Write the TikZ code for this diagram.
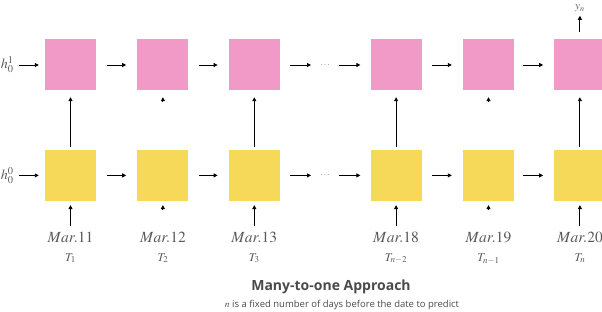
\documentclass[tikz,border=0pt]{standalone}
\usepackage{mathptmx}
\usepackage{fontspec}
\setsansfont{Open Sans}
\usetikzlibrary{arrows.meta, positioning}

\definecolor{rnnpink}{HTML}{F19AC8}
\definecolor{rnnyellow}{HTML}{F7D95A}
\definecolor{labelgray}{HTML}{5A5A5A}
\definecolor{titlegray}{HTML}{4A4A4A}

\begin{document}
\begin{tikzpicture}[x=1pt, y=1pt,
    box/.style={minimum width=51pt, minimum height=51pt, inner sep=0pt},
    upper/.style={box, fill=rnnpink},
    lower/.style={box, fill=rnnyellow},
    dots/.style={minimum width=28pt, minimum height=10pt, inner sep=0pt, text=labelgray, font=\fontsize{9}{9}\selectfont},
    lbl/.style={inner sep=1pt, text=labelgray},
    date/.style={lbl, font=\fontsize{15.5}{15.5}\selectfont},
    tlbl/.style={lbl, font=\fontsize{12}{12}\selectfont},
    arr/.style={-{Triangle[length=4pt, width=4pt]}, line width=0.9pt},
    tiponly/.style={arr, shorten <=#1}]
\useasboundingbox (0,0) rectangle (602,-312);

% upper layer
\node[upper] (p1) at (70.5,-65) {};
\node[upper, right=41pt of p1] (p2) {};
\node[upper, right=40pt of p2] (p3) {};
\node[dots, right=31pt of p3] (dt1) {$\ldots$};
\node[upper, right=31pt of dt1] (p4) {};
\node[upper, right=41pt of p4] (p5) {};
\node[upper, right=40pt of p5] (p6) {};

% lower layer
\node[lower, below=59pt of p1] (y1) {};
\node[lower, below=59pt of p2] (y2) {};
\node[lower, below=59pt of p3] (y3) {};
\node[dots, right=31pt of y3] (dt2) {$\ldots$};
\node[lower, below=59pt of p4] (y4) {};
\node[lower, below=59pt of p5] (y5) {};
\node[lower, below=59pt of p6] (y6) {};

% initial states and output
\node[lbl, left=30pt of p1, font=\fontsize{14}{14}\selectfont] (h1) {$h_0^1$};
\node[lbl, left=30pt of y1, font=\fontsize{14}{14}\selectfont] (h0) {$h_0^0$};
\node[lbl, above=26pt of p6, font=\fontsize{11}{11}\selectfont] (yn) {$y_n$};

% dates
\node[date, below=30pt of y1] (d1) {$Mar.11$};
\node[date, below=30pt of y2] (d2) {$Mar.12$};
\node[date, below=30pt of y3] (d3) {$Mar.13$};
\node[date, below=30pt of y4] (d4) {$Mar.18$};
\node[date, below=30pt of y5] (d5) {$Mar.19$};
\node[date, below=30pt of y6] (d6) {$Mar.20$};

\node[tlbl, below=8pt of d1] (t1) {$T_1$};
\node[tlbl, below=8pt of d2] (t2) {$T_2$};
\node[tlbl, below=8pt of d3] (t3) {$T_3$};
\node[tlbl, below=8pt of d4] (t4) {$T_{n-2}$};
\node[tlbl, below=8pt of d5] (t5) {$T_{n-1}$};
\node[tlbl, below=8pt of d6] (t6) {$T_n$};

% caption
\node[text=titlegray, font=\sffamily\bfseries\fontsize{14}{14}\selectfont] (title) at (331,-287) {Many-to-one Approach};
\node[text=titlegray, font=\sffamily\fontsize{9.5}{9.5}\selectfont] (sub) at (342,-305) {$n$ is a fixed number of days before the date to predict};

% recurrent connections
\draw[arr, shorten <=4pt, shorten >=6pt] (h1) -- (p1);
\draw[arr, shorten <=4pt, shorten >=6pt] (h0) -- (y1);
\draw[arr, shorten <=11pt, shorten >=11pt] (p1) -- (p2);
\draw[arr, shorten <=10pt, shorten >=11pt] (p2) -- (p3);
\draw[arr, shorten <=10pt] (p3) -- (dt1);
\draw[arr, shorten >=10pt] (dt1) -- (p4);
\draw[arr, shorten <=10pt, shorten >=11pt] (p4) -- (p5);
\draw[arr, shorten <=9pt, shorten >=11pt] (p5) -- (p6);
\draw[arr, shorten <=11pt, shorten >=11pt] (y1) -- (y2);
\draw[arr, shorten <=10pt, shorten >=11pt] (y2) -- (y3);
\draw[arr, shorten <=10pt] (y3) -- (dt2);
\draw[arr, shorten >=10pt] (dt2) -- (y4);
\draw[arr, shorten <=10pt, shorten >=11pt] (y4) -- (y5);
\draw[arr, shorten <=9pt, shorten >=11pt] (y5) -- (y6);

% layer to layer
\draw[arr, shorten <=2.5pt, shorten >=6.5pt] (y1) -- (p1);
\draw[tiponly=48.5pt, shorten >=6.5pt] (y2) -- (p2);
\draw[arr, shorten <=2.5pt, shorten >=6.5pt] (y3) -- (p3);
\draw[arr, shorten <=2.5pt, shorten >=6.5pt] (y4) -- (p4);
\draw[tiponly=48.5pt, shorten >=6.5pt] (y5) -- (p5);
\draw[arr, shorten <=2.5pt, shorten >=6.5pt] (y6) -- (p6);
\draw[arr, shorten <=7pt, shorten >=2.5pt] (p6) -- (yn);

% inputs
\draw[arr, shorten <=5pt, shorten >=4pt] (d1) -- (y1);
\draw[tiponly=21pt, shorten >=4pt] (d2) -- (y2);
\draw[arr, shorten <=5pt, shorten >=4pt] (d3) -- (y3);
\draw[arr, shorten <=5pt, shorten >=4pt] (d4) -- (y4);
\draw[tiponly=21pt, shorten >=4pt] (d5) -- (y5);
\draw[arr, shorten <=5pt, shorten >=4pt] (d6) -- (y6);
\end{tikzpicture}
\end{document}
